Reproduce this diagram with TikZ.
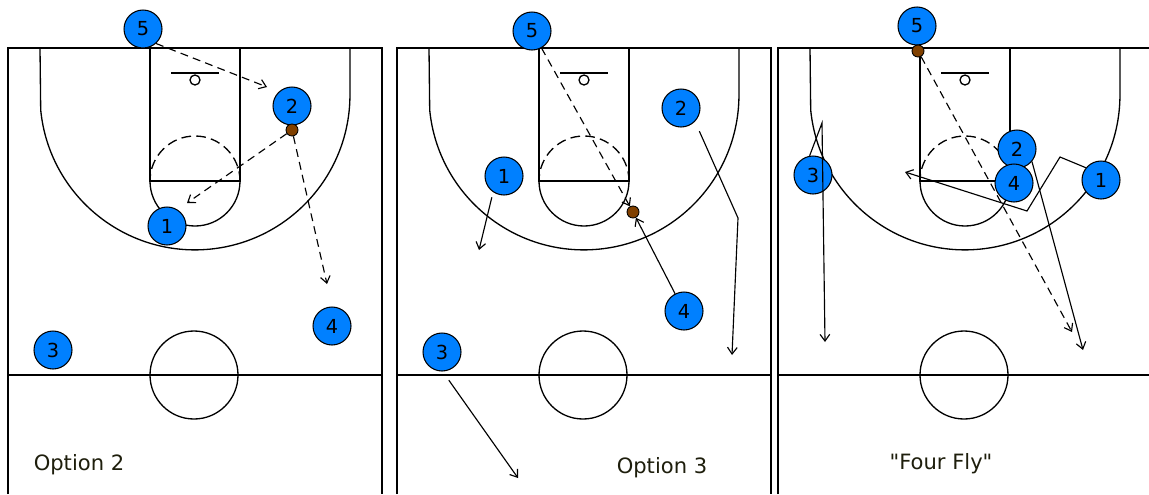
\documentclass[tikz,border=0pt]{standalone}
\usepackage{fontspec}
\setmainfont{DejaVu Sans}
\usepackage{tikz}
\usepackage{xcolor}
\usetikzlibrary{arrows.meta,positioning,calc}
\definecolor{playblue}{RGB}{0,128,255}
\definecolor{ballbrown}{RGB}{128,64,0}
\definecolor{textdark}{RGB}{30,30,12}

\begin{document}
\begin{tikzpicture}[x=0.02cm, y=0.02cm, >={Straight Barb[length=3.8pt,width=5.5pt]},
  courtline/.style={line width=0.75pt},
  ftdash/.style={dash pattern=on 5.5pt off 3pt},
  player/.style={circle,draw,line width=0.6pt,fill=playblue,minimum size=0.76cm,inner sep=0pt,font=\fontsize{11}{12}\selectfont},
  ball/.style={circle,draw,line width=0.5pt,fill=ballbrown,minimum size=0.24cm,inner sep=0pt},
  passline/.style={->,line width=0.65pt,dash pattern=on 4.5pt off 3pt},
  cutline/.style={->,line width=0.65pt},
  caption/.style={text=textdark,font=\fontsize{12}{14}\selectfont},
  court/.pic={
    \draw[courtline] (8,-494) -- (8,-48) -- (382,-48) -- (382,-494);
    \draw[courtline] (8,-375) -- (382,-375);
    \draw[courtline] (194,-375) circle[radius=44];
    \draw[courtline] (150,-48) rectangle (240,-181);
    \draw[courtline] (150,-181) arc[start angle=180,end angle=360,radius=45];
    \draw[courtline,ftdash] (240,-181) arc[start angle=0,end angle=180,radius=45];
    \draw[courtline] (40,-48) -- (40.7,-110) arc[start angle=185.6,end angle=360,radius=155] -- (350,-48);
    \draw[courtline] (171,-73) -- (219,-73);
    \draw[courtline] (195,-80) circle[radius=5];
  }]
\useasboundingbox (0,0) rectangle (1149,-494);
\clip (0,0) rectangle (1149,-494);
\fill[white] (0,0) rectangle (1149,-494);

\pic at (0,0) {court};
\pic at (389,0) {court};
\pic at (770,0) {court};

% Option 2
\node[player] (a5) at (143,-29) {5};
\node[player] (a2) at (292,-106) {2};
\node[ball] (ba) at (292,-130) {};
\node[player] (a1) at (167,-226) {1};
\node[player] (a3) at (53,-350) {3};
\node[player] (a4) at (332,-326) {4};
\coordinate (a5end) at (267,-87);
\coordinate (a1end) at (187,-203);
\coordinate (a4end) at (327,-284);
\draw[passline] (a5.-48) -- (a5end);
\draw[passline] (ba) -- (a1end);
\draw[passline] (ba) -- (a4end);
\node[caption] (opt2) at (79,-465) {Option 2};

% Option 3
\node[player] (b5) at (532,-31) {5};
\node[player] (b2) at (681,-108) {2};
\node[player] (b1) at (504,-176) {1};
\node[ball] (bb) at (633,-212) {};
\node[player] (b4) at (684,-311) {4};
\node[player] (b3) at (442,-352) {3};
\coordinate (b1end) at (479,-250);
\coordinate (b2bend) at (738,-218);
\coordinate (b2end) at (732,-355);
\coordinate (b3end) at (518,-478);
\draw[passline] (b5) -- (bb);
\draw[cutline] (b4) -- (bb);
\draw[cutline,shorten <=3pt] (b1.-124) -- (b1end);
\draw[cutline,shorten <=6pt] (b2.-44) -- (b2bend) -- (b2end);
\draw[cutline,shorten <=6pt] (b3.-88) -- (b3end);
\node[caption] (opt3) at (662,-468) {Option 3};

% Four Fly
\node[player] (c5) at (917,-26) {5};
\node[ball] (bc) at (918,-51) {};
\coordinate (cpassend) at (1072,-332);
\draw[passline] (bc) -- (cpassend);
\node[player] (c2) at (1017,-149) {2};
\node[player] (c4) at (1014,-183) {4};
\node[player] (c1) at (1101,-180) {1};
\node[player] (c3) at (813,-175) {3};
\coordinate (c2end) at (1083,-350);
\coordinate (c1a) at (1060,-157);
\coordinate (c1b) at (1027,-211);
\coordinate (c1end) at (905,-172);
\coordinate (c3top) at (822,-123);
\coordinate (c3end) at (825,-342);
\draw[cutline] (c2.-40) -- (c2end);
\draw[cutline] (c1.141) -- (c1a) -- (c1b) -- (c1end);
\draw[cutline] (c3.100) -- (c3top) -- (c3end);
\node[caption] (fourfly) at (941,-464) {\textquotedbl Four Fly\textquotedbl};
\end{tikzpicture}
\end{document}
